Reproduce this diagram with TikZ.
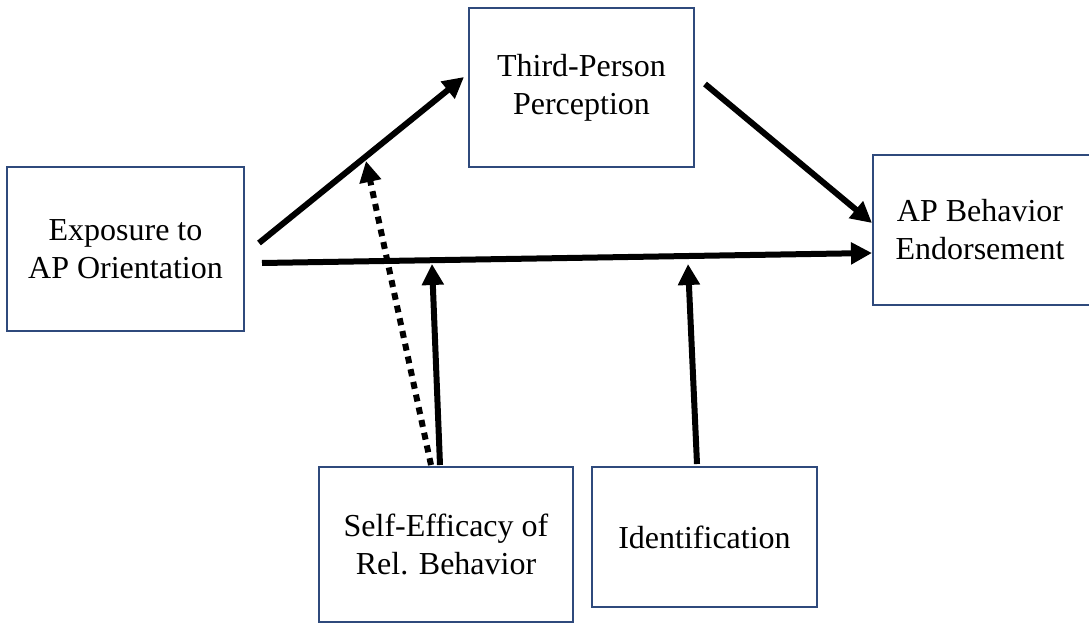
\documentclass[tikz,border=0pt]{standalone}
\usepackage{fontspec}
\setmainfont{Liberation Serif}
\usetikzlibrary{arrows.meta,calc}
\definecolor{boxblue}{HTML}{2F4A7C}
\tikzset{
  boxtext/.style={align=center, inner sep=0pt, font=\fontsize{32}{38}\selectfont},
  box/.style={boxtext, draw=boxblue, line width=2pt, fill=white},
  arr/.style={line width=6pt, -{Triangle[length=21pt,width=21pt]}},
  dotarr/.style={arr, dash pattern=on 7pt off 6pt},
}
\begin{document}
\begin{tikzpicture}[x=1pt,y=-1pt]
\useasboundingbox (0,0) rectangle (1089,623);
\fill[white] (0,0) rectangle (1089,623);
\node[box, minimum width=240pt, minimum height=150pt] (apb) at (993,230) {};
\node[boxtext] (apbtext) at (980,230) {AP Behavior\\Endorsement};
\node[box, minimum width=237pt, minimum height=164pt] (exp) at (125.5,249) {Exposure to\\AP Orientation};
\node[box, minimum width=225pt, minimum height=159pt] (tpp) at (581.5,87.5) {Third-Person\\Perception};
\node[box, minimum width=254pt, minimum height=155pt] (se) at (446,544.5) {Self-Efficacy of\\Rel. Behavior};
\node[box, minimum width=225pt, minimum height=140pt] (id) at (704.5,537) {Identification};
% free ends on the paths
\coordinate (m1) at (366,161);
\coordinate (m2) at (432,264);
\coordinate (m3) at (688,264);
% main paths
\draw[arr] ($(exp.east)+(14,-6)$) -- ($(tpp.west)+(-4,-10.5)$);
\draw[arr] ($(tpp.east)+(10,-3.5)$) -- ($(apb.west)+(0,-7)$);
\draw[arr] ($(exp.east)+(17,14)$) -- ($(apb.west)+(0,23)$);
% moderators
\draw[dotarr] ($(se.north)+(-15,-1)$) -- (m1);
\draw[arr] ($(se.north)+(-6,-1)$) -- (m2);
\draw[arr] ($(id.north)+(-7.5,-2)$) -- (m3);
\end{tikzpicture}
\end{document}
